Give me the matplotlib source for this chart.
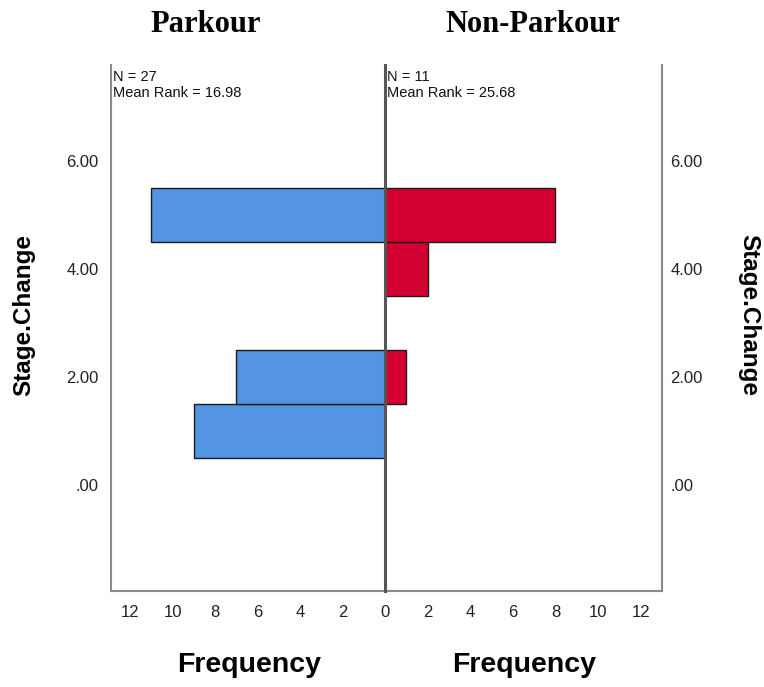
import matplotlib.pyplot as plt

# Stage.Change histogram by group (SPSS independent-samples pyramid)
stages = [1, 2, 4, 5]
parkour_freq = [9, 7, 0, 11]
non_parkour_freq = [0, 1, 2, 8]

y_ticks = [0, 2, 4, 6]
y_ticklabels = [".00", "2.00", "4.00", "6.00"]
x_ticks_left = [2, 4, 6, 8, 10, 12]
x_ticks_right = [0, 2, 4, 6, 8, 10, 12]

groups = ["Parkour", "Non-Parkour"]
n_counts = [27, 11]
mean_ranks = [16.98, 25.68]

W, H = 764, 687
fig = plt.figure(figsize=(W / 100, H / 100), dpi=100)
fig.patch.set_facecolor("white")


def fx(px):
    return px / W


def fy(py):
    return 1 - py / H


top, bottom = 65, 591
ax_l = fig.add_axes([fx(111), fy(bottom), fx(385 - 111), (bottom - top) / H])
ax_r = fig.add_axes([fx(385), fy(bottom), fx(662 - 385), (bottom - top) / H])

blue = "#5394E3"
red = "#D50032"
frame_col = "#8a8a8a"

ax_l.barh(stages, parkour_freq, height=1.0, color=blue, edgecolor="#1a1a1a", linewidth=1.0, zorder=2)
ax_r.barh(stages, non_parkour_freq, height=1.0, color=red, edgecolor="#1a1a1a", linewidth=1.0, zorder=2)

ax_l.set_xlim(12.9, 0)
ax_r.set_xlim(0, 13.0)
ax_l.set_xticks(x_ticks_left)
ax_l.set_xticklabels([str(t) for t in x_ticks_left])
ax_r.set_xticks(x_ticks_right)
ax_r.set_xticklabels([str(t) for t in x_ticks_right])
for ax in (ax_l, ax_r):
    ax.set_ylim(-1.95, 7.77)
    ax.set_yticks(y_ticks)
    ax.spines["top"].set_visible(False)
    for s in ("left", "right", "bottom"):
        ax.spines[s].set_color(frame_col)
        ax.spines[s].set_linewidth(1.5)
    ax.tick_params(axis="both", length=0, labelsize=12, colors="#222222", pad=10)

ax_l.spines["right"].set_visible(False)
ax_r.spines["left"].set_color("#555555")
ax_r.spines["left"].set_linewidth(2.2)
ax_r.spines["left"].set_zorder(5)

ax_l.set_yticklabels(y_ticklabels)
ax_l.tick_params(axis="y", pad=9)
ax_r.yaxis.tick_right()
ax_r.set_yticklabels(y_ticklabels)
ax_r.tick_params(axis="y", pad=6, length=0)

# N and mean rank text
for ax, n, mr in zip((ax_l, ax_r), n_counts, mean_ranks):
    ax.text(0.008, 0.99, f"N = {n}\nMean Rank = {mr:.2f}", transform=ax.transAxes,
            ha="left", va="top", fontsize=10.5, color="#111111", linespacing=1.2,
            family="Liberation Sans")

# group titles
fig.text(fx(206), fy(25), groups[0], ha="center", va="center", fontsize=22,
         fontweight="bold", family="Liberation Serif")
fig.text(fx(533), fy(25), groups[1], ha="center", va="center", fontsize=22,
         fontweight="bold", family="Liberation Serif")

# axis titles
fig.text(fx(249), fy(665), "Frequency", ha="center", va="center", fontsize=20.5,
         fontweight="bold", family="Liberation Sans")
fig.text(fx(524), fy(665), "Frequency", ha="center", va="center", fontsize=20.5,
         fontweight="bold", family="Liberation Sans")
fig.text(fx(24), fy(315), "Stage.Change", ha="center", va="center", rotation=90,
         fontsize=17.5, fontweight="bold", family="Liberation Sans")
fig.text(fx(749), fy(315), "Stage.Change", ha="center", va="center", rotation=-90,
         fontsize=17.5, fontweight="bold", family="Liberation Sans")

for lab in ax_l.get_xticklabels() + ax_r.get_xticklabels() + ax_l.get_yticklabels() + ax_r.get_yticklabels():
    lab.set_family("Liberation Sans")

fig.savefig("out.png", dpi=100, facecolor="white")
